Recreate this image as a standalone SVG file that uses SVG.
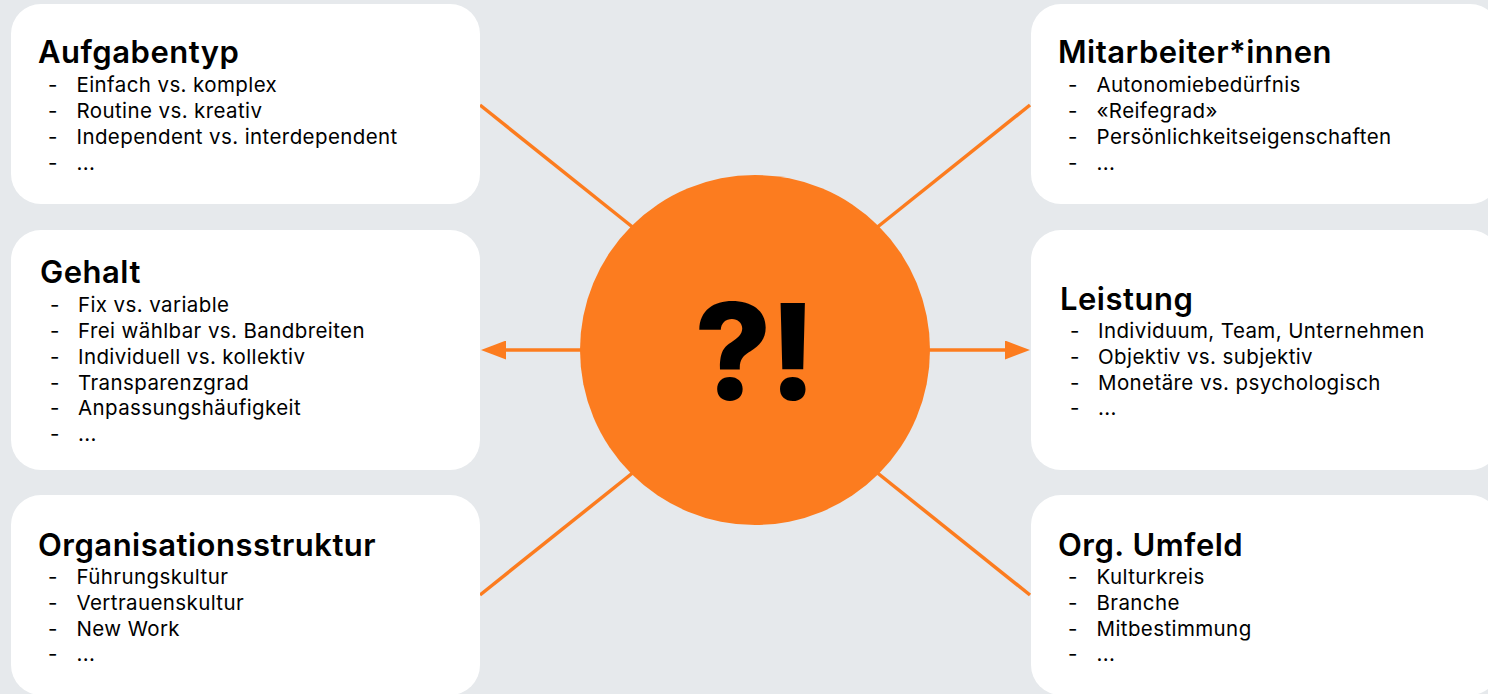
<svg xmlns="http://www.w3.org/2000/svg" width="1488" height="694" viewBox="0 0 1488 694">
<defs>
<style>
.box{fill:#ffffff}
.t{font-family:Inter,"Liberation Sans",sans-serif;font-size:31px;font-weight:600;letter-spacing:0.5px;fill:#000}
.i{font-family:Inter,"Liberation Sans",sans-serif;font-size:20.5px;font-weight:400;letter-spacing:0.4px;fill:#000}
.c{stroke:#FC7C1F;stroke-width:3.5;fill:none}
.q{font-family:Inter,"Liberation Sans",sans-serif;font-size:134px;font-weight:800;fill:#000}
</style>
<marker id="ah" markerUnits="userSpaceOnUse" markerWidth="25" markerHeight="19" refX="0" refY="9.5" orient="auto" viewBox="0 0 25 19">
<path d="M0,0 L25,9.5 L0,19 Z" fill="#FC7C1F"/>
</marker>
</defs>
<rect width="1488" height="694" fill="#E6E9EC"/>
<g id="connectors">
<line class="c" x1="480" y1="105" x2="640" y2="233"/>
<line class="c" x1="1030" y1="105" x2="870" y2="233"/>
<line class="c" x1="480" y1="595" x2="640" y2="467"/>
<line class="c" x1="1030" y1="595" x2="870" y2="467"/>
<line class="c" x1="590" y1="350" x2="506" y2="350" marker-end="url(#ah)"/>
<line class="c" x1="920" y1="350" x2="1005" y2="350" marker-end="url(#ah)"/>
</g>
<g id="center">
<circle cx="755" cy="350" r="175" fill="#FC7C1F"/>
<text class="q" x="754" y="400" text-anchor="middle" letter-spacing="-3">?!</text>
</g>
<g id="aufgabentyp">
<rect class="box" x="11" y="4" width="469" height="200" rx="30"/>
<text class="t" x="38" y="63">Aufgabentyp</text>
<text class="i" x="48" y="92">-</text><text class="i" x="76.5" y="92">Einfach vs. komplex</text>
<text class="i" x="48" y="118">-</text><text class="i" x="76.5" y="118">Routine vs. kreativ</text>
<text class="i" x="48" y="144">-</text><text class="i" x="76.5" y="144">Independent vs. interdependent</text>
<text class="i" x="48" y="170">-</text><text class="i" x="76.5" y="170">...</text>
</g>
<g id="gehalt">
<rect class="box" x="11" y="230" width="469" height="240" rx="30"/>
<text class="t" x="40" y="283">Gehalt</text>
<text class="i" x="50" y="312">-</text><text class="i" x="78" y="312">Fix vs. variable</text>
<text class="i" x="50" y="338">-</text><text class="i" x="78" y="338">Frei wählbar vs. Bandbreiten</text>
<text class="i" x="50" y="363.5">-</text><text class="i" x="78" y="363.5">Individuell vs. kollektiv</text>
<text class="i" x="50" y="389.5">-</text><text class="i" x="78" y="389.5">Transparenzgrad</text>
<text class="i" x="50" y="415">-</text><text class="i" x="78" y="415">Anpassungshäufigkeit</text>
<text class="i" x="50" y="441">-</text><text class="i" x="78" y="441">...</text>
</g>
<g id="organisationsstruktur">
<rect class="box" x="11" y="495" width="469" height="200" rx="30"/>
<text class="t" x="38" y="556">Organisationsstruktur</text>
<text class="i" x="48" y="584">-</text><text class="i" x="76.5" y="584">Führungskultur</text>
<text class="i" x="48" y="610">-</text><text class="i" x="76.5" y="610">Vertrauenskultur</text>
<text class="i" x="48" y="636">-</text><text class="i" x="76.5" y="636">New Work</text>
<text class="i" x="48" y="661">-</text><text class="i" x="76.5" y="661">...</text>
</g>
<g id="mitarbeiter">
<rect class="box" x="1031" y="4" width="469" height="200" rx="30"/>
<text class="t" x="1058" y="63">Mitarbeiter*innen</text>
<text class="i" x="1068" y="92">-</text><text class="i" x="1096.5" y="92">Autonomiebedürfnis</text>
<text class="i" x="1068" y="118">-</text><text class="i" x="1096.5" y="118">«Reifegrad»</text>
<text class="i" x="1068" y="144">-</text><text class="i" x="1096.5" y="144">Persönlichkeitseigenschaften</text>
<text class="i" x="1068" y="170">-</text><text class="i" x="1096.5" y="170">...</text>
</g>
<g id="leistung">
<rect class="box" x="1031" y="230" width="469" height="240" rx="30"/>
<text class="t" x="1060" y="310">Leistung</text>
<text class="i" x="1070" y="338">-</text><text class="i" x="1098" y="338">Individuum, Team, Unternehmen</text>
<text class="i" x="1070" y="363.5">-</text><text class="i" x="1098" y="363.5">Objektiv vs. subjektiv</text>
<text class="i" x="1070" y="389.5">-</text><text class="i" x="1098" y="389.5">Monetäre vs. psychologisch</text>
<text class="i" x="1070" y="415">-</text><text class="i" x="1098" y="415">...</text>
</g>
<g id="umfeld">
<rect class="box" x="1031" y="495" width="469" height="200" rx="30"/>
<text class="t" x="1058" y="556">Org. Umfeld</text>
<text class="i" x="1068" y="584">-</text><text class="i" x="1096.5" y="584">Kulturkreis</text>
<text class="i" x="1068" y="610">-</text><text class="i" x="1096.5" y="610">Branche</text>
<text class="i" x="1068" y="636">-</text><text class="i" x="1096.5" y="636">Mitbestimmung</text>
<text class="i" x="1068" y="661">-</text><text class="i" x="1096.5" y="661">...</text>
</g>
</svg>
